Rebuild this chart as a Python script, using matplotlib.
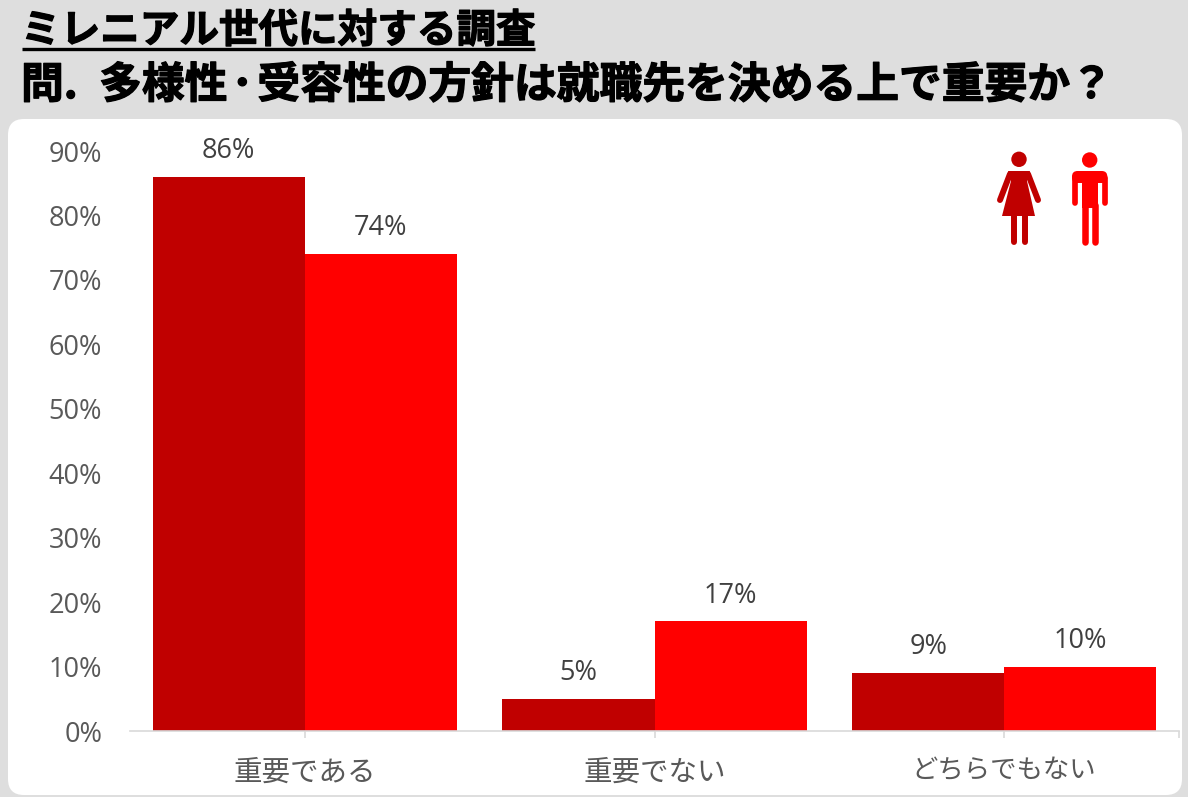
import numpy as np
import matplotlib
matplotlib.use("Agg")
import matplotlib.pyplot as plt
import matplotlib.patheffects as pe
from matplotlib.patches import FancyBboxPatch, Circle, Polygon, Rectangle

W, H = 1188, 797

title_top = "ミレニアル世代に対する調査"
title_sub = "問.\u2002多様性\u200a･\u200a受容性の方針は就職先を決める上で重要か？"
categories = ["重要である", "重要でない", "どちらでもない"]
female = [86, 5, 9]
male = [74, 17, 10]
y_ticks = [0, 10, 20, 30, 40, 50, 60, 70, 80, 90]

DARK_RED = "#c00000"
RED = "#ff0000"
GREY = "#595959"
VALUE_GREY = "#404040"
LABEL_FONT = ["Open Sans", "Noto Sans CJK JP"]
JP_FONT = ["Noto Sans CJK JP", "DejaVu Sans"]


def person_limb(ax, xs, ys, color, lw):
    ax.plot(xs, ys, color=color, lw=lw, solid_capstyle="round", solid_joinstyle="round")


def draw_woman(ax, color):
    ax.add_patch(Circle((1019, 159.3), 7.7, color=color, lw=0))
    ax.add_patch(Polygon([(1008, 171), (1030, 171), (1027, 181), (1035, 216), (1002, 216), (1011, 181)],
                         closed=True, color=color, lw=0))
    person_limb(ax, [1010, 1000], [174, 200], color, 4.3)
    person_limb(ax, [1028, 1038], [174, 200], color, 4.3)
    person_limb(ax, [1013.7, 1013.7], [214, 242], color, 4.3)
    person_limb(ax, [1024.7, 1024.7], [214, 242], color, 4.3)


def draw_man(ax, color):
    ax.add_patch(Circle((1089.7, 160), 7.7, color=color, lw=0))
    ax.add_patch(FancyBboxPatch((1072, 171), 35.3, 12, boxstyle="round,pad=0,rounding_size=5.5",
                                color=color, lw=0))
    ax.add_patch(Rectangle((1082, 175), 16, 33, color=color, lw=0))
    person_limb(ax, [1074.8, 1074.8], [178, 203], color, 4.1)
    person_limb(ax, [1104.5, 1104.5], [178, 203], color, 4.1)
    person_limb(ax, [1085, 1085], [205, 242], color, 4.7)
    person_limb(ax, [1095, 1095], [205, 242], color, 4.7)


fig = plt.figure(figsize=(W / 100, H / 100), dpi=100, facecolor="#dedede")

# background layer in pixel coordinates
bg = fig.add_axes([0, 0, 1, 1])
bg.set_xlim(0, W)
bg.set_ylim(H, 0)
bg.axis("off")
bg.add_patch(FancyBboxPatch((8, 119), 1174, 676, boxstyle="round,pad=0,rounding_size=16",
                            facecolor="white", edgecolor="none", mutation_aspect=1))

# the headings get a thin stroke, the bold face alone is too light
heavy = [pe.withStroke(linewidth=0.9, foreground="black")]
bg.text(21, 31, title_top, fontsize=28.5, fontweight="bold", family=JP_FONT, color="black",
        va="center", ha="left", path_effects=heavy)
bg.plot([22, 535], [49, 49], color="black", lw=2.4, solid_capstyle="butt")
bg.text(21, 85, title_sub, fontsize=30.8, fontweight="bold", family=JP_FONT, color="black",
        va="center", ha="left", path_effects=heavy)

# chart axes
ax = fig.add_axes([130 / W, 1 - 731 / H, 1049 / W, 580 / H])
ax.patch.set_alpha(0)
x = np.arange(len(categories))
width = 152 / 349.5
ax.bar(x - width / 2, female, width, color=DARK_RED)
ax.bar(x + width / 2, male, width, color=RED)
ax.set_xlim(-0.5, 2.5)
ax.set_ylim(0, 90)

for xi, f, m in zip(x, female, male):
    ax.annotate(f"{f}%", (xi - width / 2, f), xytext=(0, 8.5), textcoords="offset points", ha="center",
                va="bottom", fontsize=19.5, color=VALUE_GREY, family=LABEL_FONT)
    ax.annotate(f"{m}%", (xi + width / 2, m), xytext=(0, 8.5), textcoords="offset points", ha="center",
                va="bottom", fontsize=19.5, color=VALUE_GREY, family=LABEL_FONT)

ax.set_yticks(y_ticks)
ax.set_yticklabels([f"{t}%" for t in y_ticks], fontsize=19.5, color=GREY, family=LABEL_FONT,
                   va="center_baseline")
ax.tick_params(axis="y", length=0, pad=20)
ax.set_xticks(x)
ax.set_xticklabels(categories, fontsize=20.5, color=GREY, family=JP_FONT)
ax.get_xticklabels()[2].set_fontsize(19)
ax.tick_params(axis="x", length=5, color="#d9d9d9", width=1.2, pad=14)
ax.set_xticks([2.5], minor=True)
ax.tick_params(axis="x", which="minor", length=5, color="#d9d9d9", width=1.2)
for side in ["top", "right", "left"]:
    ax.spines[side].set_visible(False)
ax.spines["bottom"].set_color("#d9d9d9")
ax.spines["bottom"].set_linewidth(1.2)

# pictograms, drawn over the chart
icons = fig.add_axes([0, 0, 1, 1])
icons.set_xlim(0, W)
icons.set_ylim(H, 0)
icons.axis("off")
draw_woman(icons, DARK_RED)
draw_man(icons, RED)

fig.savefig("out.png", dpi=100, facecolor=fig.get_facecolor())
